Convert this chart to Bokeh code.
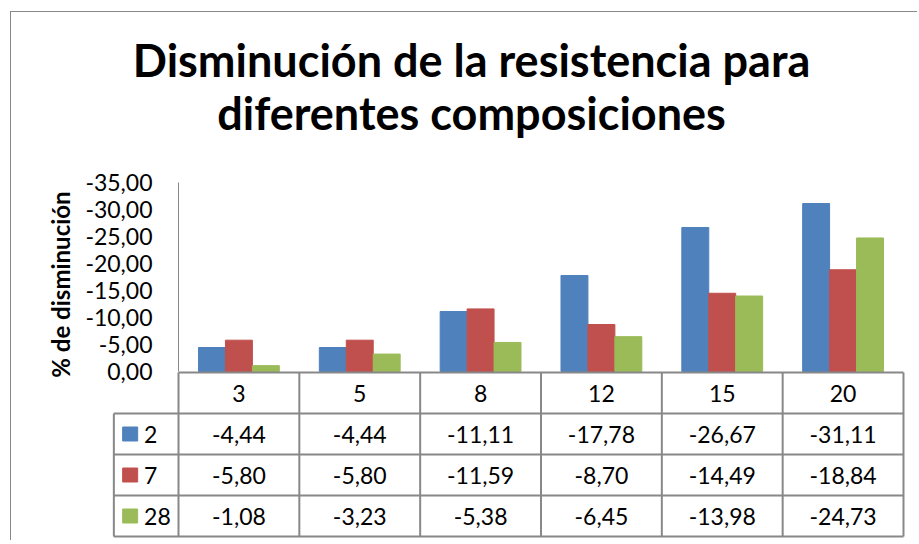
import math
from bokeh.plotting import figure
from bokeh.models import Range1d, ColumnDataSource
from bokeh.layouts import column
from bokeh.embed import file_html
from bokeh.resources import INLINE
from bokeh.core.properties import value

# ---------------- data ----------------
categories = ["3", "5", "8", "12", "15", "20"]
series_names = ["2", "7", "28"]
s2 = [-4.44, -4.44, -11.11, -17.78, -26.67, -31.11]
s7 = [-5.80, -5.80, -11.59, -8.70, -14.49, -18.84]
s28 = [-1.08, -3.23, -5.38, -6.45, -13.98, -24.73]
y_ticks = [0, -5, -10, -15, -20, -25, -30, -35]
title_lines = ["Disminución de la resistencia para", "diferentes composiciones"]
y_label = "% de disminución"

# ---------------- style / layout ----------------
colors = ["#4F81BD", "#C0504D", "#9BBB59"]
FONT = "Lato"
GRID = "#888888"
BAR_W = 0.223
LEG = 0.535            # legend column width (category units)
N = len(categories)
series = [s2, s7, s28]
X0, X1 = -1.1007, 6.0166   # x extent (category units)
YPX = 5.4                  # pixels per % unit
ABOVE, BELOW = 359, 169    # frame pixels above / below the zero line
ROW_PX, ROW_TOP_PX = 41.0, 1.0

def fmt(v):
    return f"{v:.2f}".replace(".", ",")

def up(px):      # pixels above the zero line -> data
    return -px / YPX

def down(px):    # pixels below the zero line -> data
    return px / YPX

p = figure(width=906, height=ABOVE + BELOW, x_range=Range1d(X0, X1),
           y_range=Range1d(down(BELOW), up(ABOVE)),
           output_backend="svg", toolbar_location=None, title=None,
           min_border_left=34, min_border_right=12, min_border_top=0, min_border_bottom=0)
p.outline_line_color = None
p.xgrid.visible = False
p.ygrid.visible = False
p.xaxis.visible = False
p.yaxis.visible = False

# bars
for k, (vals, col) in enumerate(zip(series, colors)):
    xs = [i + 0.5 + (k - 1) * BAR_W for i in range(N)]
    src = ColumnDataSource(dict(x=xs, top=vals, cat=categories))
    p.vbar(x="x", top="top", bottom=0, width=BAR_W, source=src,
           fill_color=col, line_color=col)

# value axis (line + labels)
p.segment(x0=[0], y0=[min(y_ticks)], x1=[0], y1=[max(y_ticks)], line_color=GRID, line_width=1)
tsrc = ColumnDataSource(dict(x=[0] * len(y_ticks), y=y_ticks, t=[fmt(v) for v in y_ticks]))
p.text(x="x", y="y", text="t", source=tsrc, x_offset=-26, text_font=value(FONT),
       text_font_size="23px", text_align="right", text_baseline="middle", text_color="black")

# axis title
p.text(x=[-0.9766], y=[up(87)], text=[y_label], angle=math.pi / 2,
       text_font=value(FONT), text_font_size="24px", text_font_style="bold",
       text_align="center", text_baseline="middle", text_color="black")

# chart title
p.text(x=[2.425, 2.425], y=[up(311.5), up(258.5)], text=title_lines,
       text_font=value(FONT), text_font_size="45px", text_font_style="bold",
       text_align="center", text_baseline="alphabetic", text_color="black")

# ---------------- data table ----------------
ROWS = len(series) + 1
def row_y(r):
    return down(ROW_TOP_PX + r * ROW_PX)

hx0, hx1, hy0, hy1 = [], [], [], []
for r in range(ROWS + 1):
    hx0.append(0 if r == 0 else -LEG); hx1.append(N); hy0.append(row_y(r)); hy1.append(row_y(r))
for c in range(N + 1):
    hx0.append(c); hx1.append(c); hy0.append(row_y(0)); hy1.append(row_y(ROWS))
hx0.append(-LEG); hx1.append(-LEG); hy0.append(row_y(1)); hy1.append(row_y(ROWS))
p.segment(x0=hx0, y0=hy0, x1=hx1, y1=hy1, line_color=GRID, line_width=2)

hsrc = ColumnDataSource(dict(x=[i + 0.5 for i in range(N)], y=[row_y(0.5)] * N, t=categories))
p.text(x="x", y="y", text="t", source=hsrc, text_font=value(FONT), text_font_size="23px",
       text_align="center", text_baseline="middle", text_color="black")

vx, vy, vt = [], [], []
for r, vals in enumerate(series):
    for i, v in enumerate(vals):
        vx.append(i + 0.5); vy.append(row_y(r + 1.5)); vt.append(fmt(v))
vsrc = ColumnDataSource(dict(x=vx, y=vy, t=vt))
p.text(x="x", y="y", text="t", source=vsrc, text_font=value(FONT), text_font_size="23px",
       text_align="center", text_baseline="middle", text_color="black")

lsrc = ColumnDataSource(dict(x=[-LEG + 0.135] * len(series), tx=[-LEG + 0.25] * len(series),
                             y=[row_y(r + 1.5) for r in range(len(series))], c=colors, t=series_names))
p.rect(x="x", y="y", width=15, height=14, width_units="screen", height_units="screen",
       fill_color="c", line_color="c", source=lsrc)
p.text(x="tx", y="y", text="t", source=lsrc, text_font=value(FONT), text_font_size="23px",
       text_align="left", text_baseline="middle", text_color="black")

layout = column(p, spacing=0, margin=(11, 0, 0, 10),
                styles={"border-left": "1px solid #888888", "border-top": "1px solid #888888"})

open("out.html", "w").write(file_html(layout, INLINE))
